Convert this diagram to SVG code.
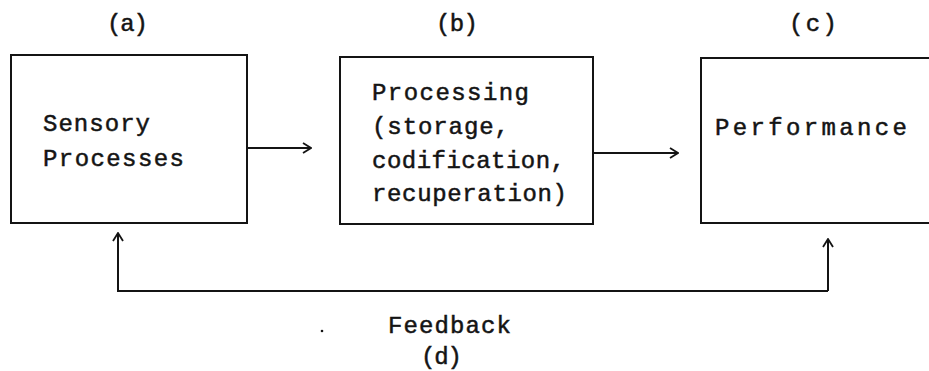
<svg xmlns="http://www.w3.org/2000/svg" width="929" height="371" viewBox="0 0 929 371">
<style>
.box{fill:none;stroke:#141414;stroke-width:2}
.ln{fill:none;stroke:#141414;stroke-width:2}
text{font-family:"Liberation Mono","Courier New",monospace;font-size:24px;fill:#141414;stroke:#141414;stroke-width:0.5}
</style>
<defs>
<marker id="ah" viewBox="0 0 10 12" refX="9" refY="6" markerWidth="10" markerHeight="12" markerUnits="userSpaceOnUse" orient="auto">
<path d="M1,1 L9,6 L1,11" fill="none" stroke="#141414" stroke-width="1.8"/>
</marker>
</defs>
<rect width="929" height="371" fill="#fff"/>
<g id="node-a">
<text x="107" y="31" textLength="41" lengthAdjust="spacing">(a)</text>
<rect class="box" x="11" y="55" width="236" height="168"/>
<text x="43" y="131" textLength="107" lengthAdjust="spacing">Sensory</text>
<text x="43" y="166" textLength="141" lengthAdjust="spacing">Processes</text>
</g>
<g id="node-b">
<text x="436" y="31" textLength="42" lengthAdjust="spacing">(b)</text>
<rect class="box" x="340" y="57" width="253" height="167"/>
<text x="372" y="100" textLength="157" lengthAdjust="spacing">Processing</text>
<text x="372" y="134" textLength="137" lengthAdjust="spacing">(storage,</text>
<text x="372" y="168" textLength="193" lengthAdjust="spacing">codification,</text>
<text x="372" y="201" textLength="195" lengthAdjust="spacing">recuperation)</text>
</g>
<g id="node-c">
<text x="789" y="31" textLength="48" lengthAdjust="spacing">(c)</text>
<path class="box" d="M935,58 H701 V223 H935"/>
<text x="715" y="135" textLength="192" lengthAdjust="spacing">Performance</text>
</g>
<g id="node-d">
<circle cx="322" cy="331" r="1.3" fill="#141414"/>
<text x="388" y="333" textLength="123" lengthAdjust="spacing">Feedback</text>
<text x="421" y="364" textLength="41" lengthAdjust="spacing">(d)</text>
</g>
<g id="connectors">
<line class="ln" x1="247" y1="148" x2="311" y2="148" marker-end="url(#ah)"/>
<line class="ln" x1="593" y1="153" x2="678" y2="153" marker-end="url(#ah)"/>
<path class="ln" d="M828,291 V239" marker-end="url(#ah)"/>
<path class="ln" d="M828,291 H118 V233" marker-end="url(#ah)"/>
</g>
</svg>
